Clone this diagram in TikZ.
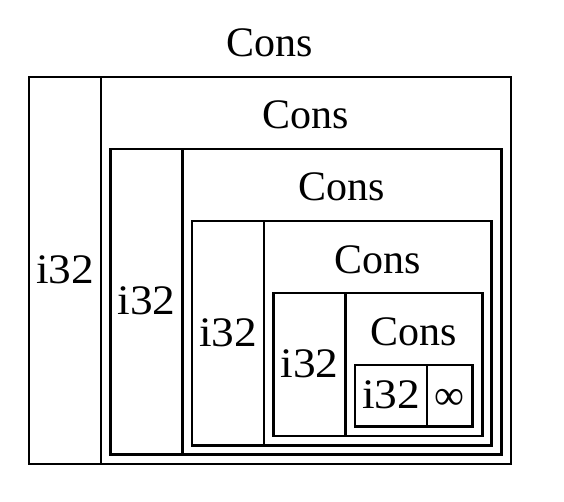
\documentclass[tikz,border=0pt]{standalone}
\usepackage{fontspec}
\setmainfont{Liberation Serif}
\begin{document}
\begin{tikzpicture}[x=1pt,y=-1pt,
    cell/.style={draw=black,line width=2.7pt},
    lbl/.style={inner sep=0pt,anchor=base,font=\fontsize{42}{50}\selectfont}]
    \useasboundingbox (0,0) rectangle (564,502);

    % Nested Cons boxes, outermost first
    \foreach \i in {0,...,4}{
        \pgfmathsetmacro{\lft}{29+81.5*\i}
        \pgfmathsetmacro{\tp}{77+72*\i}
        \pgfmathsetmacro{\rgt}{511-9.6*\i}
        \pgfmathsetmacro{\btm}{464-9.3*\i}
        \pgfmathsetmacro{\dv}{\lft+72}
        \pgfmathsetmacro{\cx}{(\lft+\rgt)/2}
        \pgfmathsetmacro{\vx}{(\lft+\dv)/2}
        \pgfmathsetmacro{\vy}{(\tp+\btm)/2+13}
        \draw[cell] (\lft,\tp) rectangle (\rgt,\btm);
        \draw[cell] (\dv,\tp) -- (\dv,\btm);
        % label above the box and value in the left cell
        \node[lbl] (cons\i) at (\cx,\tp-20) {Cons};
        \node[lbl,xscale=1.08] (val\i) at (\vx,\vy) {i32};
    }

    % Innermost tail
    \node[lbl] (tail) at (449,409) {∞};
\end{tikzpicture}
\end{document}
